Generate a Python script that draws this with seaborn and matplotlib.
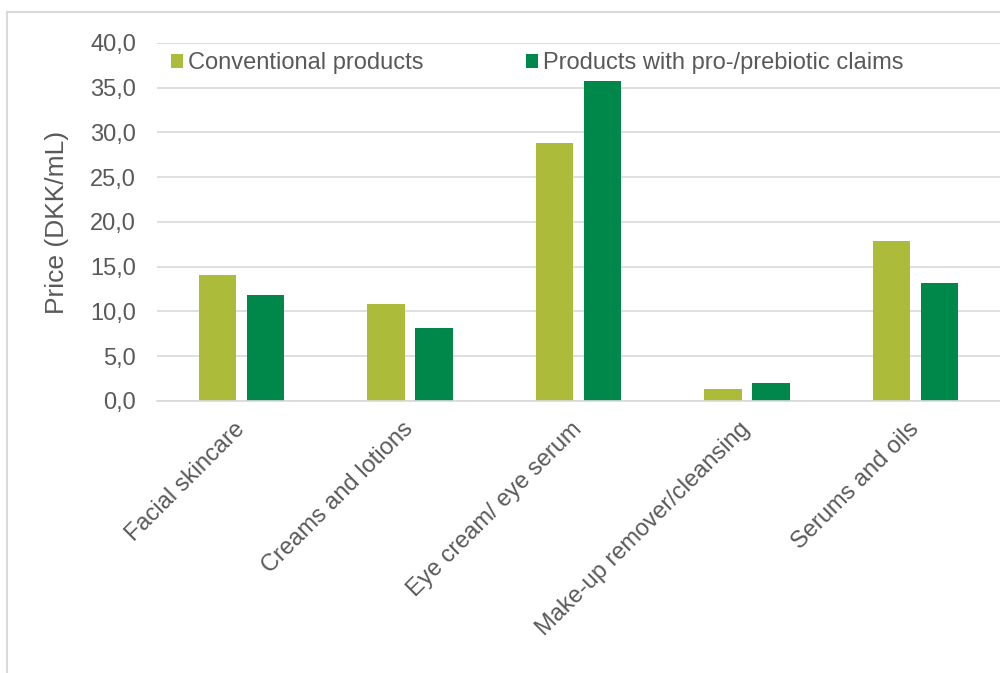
import matplotlib
matplotlib.use("Agg")
import matplotlib.pyplot as plt
import matplotlib.patches as mpatches
from matplotlib.ticker import FuncFormatter, MultipleLocator
import seaborn as sns
import pandas as pd

categories = ["Facial skincare", "Creams and lotions", "Eye cream/ eye serum",
              "Make-up remover/cleansing", "Serums and oils"]
series_names = ["Conventional products", "Products with pro-/prebiotic claims"]
conventional = [14.1, 10.8, 28.8, 1.3, 17.9]
probiotic = [11.8, 8.2, 35.8, 2.0, 13.2]
y_label = "Price (DKK/mL)"

rows = []
for c, v in zip(categories, conventional):
    rows.append({"category": c, "series": series_names[0], "value": v})
for c, v in zip(categories, probiotic):
    rows.append({"category": c, "series": series_names[1], "value": v})
df = pd.DataFrame(rows)

sns.set_theme(style="white")
plt.rcParams["font.family"] = ["Liberation Sans", "DejaVu Sans"]
TXT = "#595959"
GRID = "#d9d9d9"

fig = plt.figure(figsize=(10, 6.73), dpi=100)
ax = fig.add_axes([0.157, 0.4042, 0.843, 0.532])

sns.barplot(data=df, x="category", y="value", hue="series", order=categories,
            hue_order=series_names, palette=["#ACBC3A", "#00884B"],
            width=0.569, gap=0.219, linewidth=0, saturation=1, ax=ax)

ax.set_ylim(0, 40)
ax.set_xlim(-0.5, len(categories) - 0.5)
ax.yaxis.set_major_locator(MultipleLocator(5))
ax.yaxis.set_major_formatter(FuncFormatter(lambda v, p: f"{v:.1f}".replace(".", ",")))
ax.grid(axis="y", color=GRID, linewidth=1.2)
ax.grid(axis="x", visible=False)
ax.set_axisbelow(True)
for s in ["top", "right", "left"]:
    ax.spines[s].set_visible(False)
ax.spines["bottom"].set_color(GRID)
ax.spines["bottom"].set_linewidth(1.2)

ax.tick_params(axis="y", length=0, pad=15, labelsize=17, labelcolor=TXT)
ax.tick_params(axis="x", length=0, pad=18, labelsize=17, labelcolor=TXT)
for lab in ax.get_xticklabels():
    lab.set_rotation(45)
    lab.set_ha("right")
    lab.set_va("center")
    lab.set_rotation_mode("anchor")

ax.set_xlabel("")
ax.set_ylabel(y_label, fontsize=19, color=TXT, labelpad=15)

handles, labels = ax.get_legend_handles_labels()
if ax.get_legend() is not None:
    ax.get_legend().remove()
fig.legend(handles, labels, loc="center left", bbox_to_anchor=(0.171, 0.906),
           ncol=2, frameon=False, fontsize=17, labelcolor=TXT,
           handlelength=0.51, handleheight=0.51, handletextpad=0.2,
           columnspacing=4.35, borderpad=0, borderaxespad=0)

# chart-area border (only left and top edges fall inside the image)
border = mpatches.Rectangle((0.007, -0.5), 1.5, 1.5 - 12 / 673,
                            transform=fig.transFigure, fill=False,
                            edgecolor=GRID, linewidth=1.5)
fig.patches.append(border)

fig.savefig("out.png", dpi=100)
